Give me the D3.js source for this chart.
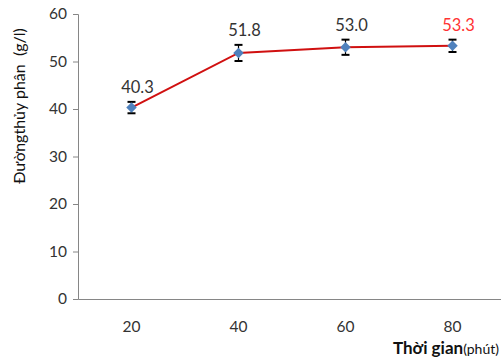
<!DOCTYPE html>
<html>
<head>
<meta charset="utf-8">
<script src="https://cdn.jsdelivr.net/npm/d3@7"></script>
<style>
  body { margin: 0; background: #fff; }
  text { font-family: Lato, "Open Sans", sans-serif; }
</style>
</head>
<body>
<svg id="chart" width="501" height="358"></svg>
<script>
var times = ["20", "40", "60", "80"];
var sugar = [40.3, 51.8, 53.0, 53.3];
var errors = [1.2, 1.7, 1.6, 1.3];
var yTicks = [0, 10, 20, 30, 40, 50, 60];

var svg = d3.select("#chart");
var margin = { top: 14, left: 78, bottom: 59 };
var height = 358;

var xScale = d3.scaleBand()
    .domain(times)
    .range([margin.left, margin.left + 428]);

var yScale = d3.scaleLinear()
    .domain([0, 60])
    .range([height - margin.bottom, margin.top]);

// y axis
var yAxis = svg.append("g")
    .attr("transform", "translate(" + margin.left + ",0)")
    .call(d3.axisLeft(yScale).tickValues(yTicks).tickSize(5).tickPadding(6));
yAxis.select(".domain").attr("stroke", "#868686");
yAxis.selectAll(".tick line").attr("stroke", "#868686");
yAxis.selectAll(".tick text").style("font-size", "15.5px").attr("fill", "#333");

// x axis
var xAxis = svg.append("g")
    .attr("transform", "translate(0," + yScale(0) + ")")
    .call(d3.axisBottom(xScale).tickSize(0).tickPadding(22).tickSizeOuter(0));
xAxis.select(".domain").attr("stroke", "#868686");
xAxis.selectAll(".tick text").style("font-size", "15.5px").attr("fill", "#333");

// line
var line = d3.line()
    .x(function (d, i) { return xScale(times[i]) + xScale.bandwidth() / 2; })
    .y(function (d) { return yScale(d); });

svg.append("path")
    .datum(sugar)
    .attr("d", line)
    .attr("fill", "none")
    .attr("stroke", "#d01010")
    .attr("stroke-width", 2);

// error bars
var eb = svg.selectAll("g.err")
    .data(sugar)
    .enter().append("g")
    .attr("class", "err")
    .attr("transform", function (d, i) { return "translate(" + (xScale(times[i]) + xScale.bandwidth() / 2) + ",0)"; });

eb.append("line")
    .attr("y1", function (d, i) { return yScale(d - errors[i]); })
    .attr("y2", function (d, i) { return yScale(d + errors[i]); })
    .attr("stroke", "#000").attr("stroke-width", 1.2);
eb.append("line")
    .attr("x1", -4).attr("x2", 4)
    .attr("y1", function (d, i) { return yScale(d - errors[i]); })
    .attr("y2", function (d, i) { return yScale(d - errors[i]); })
    .attr("stroke", "#000").attr("stroke-width", 2);
eb.append("line")
    .attr("x1", -4).attr("x2", 4)
    .attr("y1", function (d, i) { return yScale(d + errors[i]); })
    .attr("y2", function (d, i) { return yScale(d + errors[i]); })
    .attr("stroke", "#000").attr("stroke-width", 2);

// markers
eb.append("path")
    .attr("d", d3.symbol().type(d3.symbolDiamond2).size(70))
    .attr("transform", function (d) { return "translate(0," + yScale(d) + ")"; })
    .attr("fill", "#4f81bd");

// labels
eb.append("text")
    .attr("x", 6)
    .attr("y", function (d, i) { return yScale(d + errors[i]) - 9; })
    .attr("text-anchor", "middle")
    .style("font-size", "16.5px")
    .attr("fill", function (d, i) { return i === sugar.length - 1 ? "#ff3333" : "#333"; })
    .text(function (d) { return d.toFixed(1); });

// axis titles
svg.append("text")
    .attr("transform", "translate(25,106) rotate(-90)")
    .attr("text-anchor", "middle")
    .attr("xml:space", "preserve")
    .style("white-space", "pre")
    .style("font-size", "16px")
    .attr("fill", "#111")
    .text("Đườngthủy phân  (g/l)");

var xt = svg.append("text")
    .attr("x", 499)
    .attr("y", 354)
    .attr("text-anchor", "end")
    .attr("fill", "#111");
xt.append("tspan").style("font-size", "17px").style("font-weight", "bold").text("Thời gian");
xt.append("tspan").style("font-size", "14px").text("(phút)");
</script>
</body>
</html>
